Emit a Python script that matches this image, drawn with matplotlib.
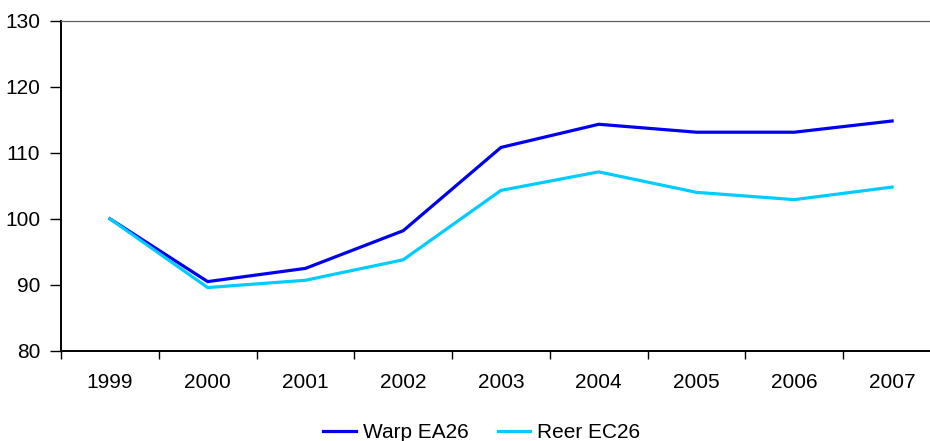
import matplotlib
matplotlib.use("Agg")
import matplotlib.pyplot as plt
import numpy as np

years = ["1999", "2000", "2001", "2002", "2003", "2004", "2005", "2006", "2007"]
warp_ea26 = [100.0, 90.5, 92.5, 98.2, 110.8, 114.3, 113.1, 113.1, 114.8]
reer_ec26 = [100.0, 89.6, 90.7, 93.8, 104.3, 107.1, 104.0, 102.9, 104.8]
y_ticks = [80, 90, 100, 110, 120, 130]

plt.rcParams["font.family"] = ["Liberation Sans", "DejaVu Sans"]
plt.rcParams["font.size"] = 15

W, H = 930, 441
fig = plt.figure(figsize=(W / 100, H / 100), dpi=100)
# axes run past the right edge of the figure, like the original export
ax = fig.add_axes([61 / W, (H - 351) / H, (941 - 61) / W, (351 - 20.5) / H])

x = np.arange(len(years))
ax.plot(x, warp_ea26, color="#0000ee", lw=2.3, label="Warp EA26", solid_joinstyle="miter")
ax.plot(x, reer_ec26, color="#00ccff", lw=2.3, label="Reer EC26", solid_joinstyle="miter")

ax.set_xlim(-0.5, len(years) - 0.5)
ax.set_ylim(80, 130)
ax.set_yticks(y_ticks)
ax.tick_params(axis="y", length=8, width=1, direction="out", pad=7)

ax.set_xticks(x)
ax.set_xticklabels(years)
ax.tick_params(axis="x", which="major", length=0, pad=16)
ax.set_xticks(np.arange(len(years) + 1) - 0.5, minor=True)
ax.tick_params(axis="x", which="minor", length=6, width=1, direction="out")

ax.spines["right"].set_visible(False)
ax.spines["top"].set_color("#606060")
ax.spines["top"].set_linewidth(0.9)
ax.spines["left"].set_linewidth(1.4)
ax.spines["bottom"].set_linewidth(1.4)

fig.legend(loc="center", bbox_to_anchor=(482 / W, (H - 433) / H), ncol=2,
           frameon=False, handlelength=1.55, handletextpad=0.35,
           columnspacing=1.4, fontsize=15)

fig.savefig("out.png", dpi=100)
